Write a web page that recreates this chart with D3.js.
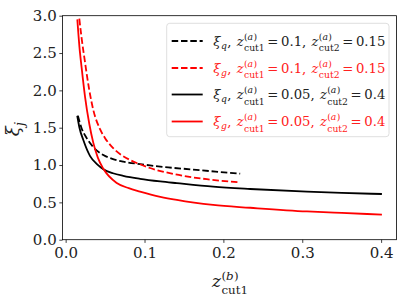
<!DOCTYPE html>
<html>
<head>
<meta charset="utf-8">
<script src="https://cdn.jsdelivr.net/npm/d3@7"></script>
<style>
  body { margin: 0; background: #fff; }
  svg text { font-family: "DejaVu Serif", serif; }
</style>
</head>
<body>
<div class="canvas"></div>
<script>
// values
const xQ1 = [0.0155, 0.0203, 0.0267, 0.035, 0.0478, 0.06, 0.073, 0.0943, 0.107, 0.13, 0.158, 0.19, 0.2213];
const yQ1 = [1.66, 1.49, 1.36, 1.24, 1.134, 1.08, 1.045, 1.012, 0.995, 0.968, 0.943, 0.912, 0.885];

const xG1 = [0.0173, 0.02, 0.0245, 0.03, 0.035, 0.0436, 0.05, 0.06, 0.0817, 0.0943, 0.107, 0.1367, 0.179, 0.2204];
const yG1 = [2.96, 2.72, 2.38, 2.0, 1.74, 1.48, 1.36, 1.23, 1.067, 1.01, 0.96, 0.88, 0.81, 0.77];

const xQ2 = [0.0147, 0.0175, 0.0224, 0.031, 0.04, 0.0478, 0.06, 0.073, 0.0943, 0.12, 0.141, 0.187, 0.234, 0.306, 0.35, 0.401];
const yQ2 = [1.66, 1.50, 1.335, 1.12, 1.01, 0.945, 0.89, 0.855, 0.815, 0.78, 0.757, 0.71, 0.679, 0.643, 0.626, 0.612];

const xG2 = [0.0148, 0.0175, 0.0203, 0.0245, 0.03, 0.035, 0.0408, 0.0478, 0.0648, 0.08, 0.0943, 0.12, 0.141, 0.187, 0.234, 0.306, 0.35, 0.401];
const yG2 = [2.95, 2.58, 2.30, 1.92, 1.55, 1.30, 1.10, 0.95, 0.76, 0.69, 0.645, 0.575, 0.532, 0.465, 0.428, 0.378, 0.358, 0.337];

const seriesX = [xQ1, xG1, xQ2, xG2];
const seriesY = [yQ1, yG1, yQ2, yG2];
const seriesSub = ['q', 'g', 'q', 'g'];
const seriesCut1 = ['0.1', '0.1', '0.05', '0.05'];
const seriesCut2 = ['0.15', '0.15', '0.4', '0.4'];
const seriesColor = ['#000000', '#ff0000', '#000000', '#ff0000'];
const seriesDashed = [true, true, false, false];

const xTicks = [0, 0.1, 0.2, 0.3, 0.4];
const yTicks = [0, 0.5, 1.0, 1.5, 2.0, 2.5, 3.0];

// layout
const W = 406, H = 304;
const box = {left: 62.5, right: 396.5, top: 15.7, bottom: 239.7};

const svg = d3.select('.canvas')
    .append('svg')
    .attr('width', W)
    .attr('height', H);

const x = d3.scaleLinear().domain([-0.004, 0.4195]).range([box.left, box.right]);
const y = d3.scaleLinear().domain([0, 3]).range([box.bottom, box.top]);

// axes
const xAxisGroup = svg.append('g')
    .attr('transform', `translate(0, ${box.bottom})`)
    .call(d3.axisBottom(x).tickValues(xTicks).tickFormat(d3.format('.1f'))
        .tickSize(3.2).tickSizeOuter(0).tickPadding(4.3));
const yAxisGroup = svg.append('g')
    .attr('transform', `translate(${box.left}, 0)`)
    .call(d3.axisLeft(y).tickValues(yTicks).tickFormat(d3.format('.1f'))
        .tickSize(3.2).tickSizeOuter(0).tickPadding(2.6));

[xAxisGroup, yAxisGroup].forEach(g => {
    g.select('.domain').remove();
    g.selectAll('line').attr('stroke', '#000').attr('stroke-width', 0.75);
    g.selectAll('text')
        .attr('font-family', '"DejaVu Serif", serif')
        .attr('font-size', 15)
        .attr('fill', '#222');
});

// curves
const line = d3.line()
    .x(d => x(d[0]))
    .y(d => y(d[1]))
    .curve(d3.curveMonotoneX);

seriesX.forEach((xs, i) => {
    svg.append('path')
        .datum(xs.map((v, j) => [v, seriesY[i][j]]))
        .attr('d', line)
        .attr('fill', 'none')
        .attr('stroke', seriesColor[i])
        .attr('stroke-width', 1.8)
        .attr('stroke-dasharray', seriesDashed[i] ? '6.5,2.8' : null);
});

// frame
svg.append('rect')
    .attr('x', box.left)
    .attr('y', box.top)
    .attr('width', box.right - box.left)
    .attr('height', box.bottom - box.top)
    .attr('fill', 'none')
    .attr('stroke', '#000')
    .attr('stroke-width', 0.8);

// little math typesetter: tokens drawn one after another, width measured
function put(g, toks, x0, y0, fs, fill, k0, dy0) {
    let cx = x0;
    toks.forEach(t => {
        if (t.gap !== undefined) { cx += t.gap * fs; return; }
        if (t.up) {
            const w1 = put(g, t.up, cx, y0, fs, fill, 0.7, -0.44);
            const w2 = put(g, t.dn, cx, y0, fs, fill, 0.7, 0.42);
            cx += Math.max(w1, w2);
            return;
        }
        const k = t.k || k0;
        const dy = t.dy !== undefined ? t.dy : dy0;
        const el = g.append('text')
            .attr('x', cx)
            .attr('y', y0 + dy * fs)
            .attr('font-size', fs * k)
            .attr('font-style', t.it ? 'italic' : 'normal')
            .attr('fill', fill)
            .text(t.s);
        cx += el.node().getComputedTextLength() + (t.it ? 0.03 * fs * k : 0);
    });
    return cx - x0;
}

function mathText(g, x0, y0, fs, fill, toks, anchor) {
    const gg = g.append('g');
    const w = put(gg, toks, 0, 0, fs, fill, 1, 0);
    const shift = anchor === 'middle' ? -w / 2 : 0;
    gg.attr('transform', `translate(${x0 + shift}, ${y0})`);
    return w;
}

const paren = (letter) => [{s: '('}, {s: letter, it: true}, {s: ')'}];

// axis labels
mathText(svg, 230, 287, 17, '#222', [
    {s: 'z', it: true},
    {up: paren('b'), dn: [{s: 'cut1'}]}
], 'middle');

const yLab = svg.append('g').attr('transform', 'translate(19, 129) rotate(-90)');
mathText(yLab, 0, 0, 18, '#222', [
    {s: 'ξ', it: true},
    {s: 'j', it: true, k: 0.7, dy: 0.25}
], 'middle');

// legend
const legend = {x: 166.7, y: 23.3, w: 222.3, h: 113.4, rowY: [41, 68, 94.5, 121.5]};

svg.append('rect')
    .attr('x', legend.x)
    .attr('y', legend.y)
    .attr('width', legend.w)
    .attr('height', legend.h)
    .attr('rx', 3)
    .attr('fill', '#fff')
    .attr('fill-opacity', 0.8)
    .attr('stroke', '#d5d5d5')
    .attr('stroke-width', 0.8);

seriesX.forEach((xs, i) => {
    const ry = legend.rowY[i];
    svg.append('line')
        .attr('x1', 171.7).attr('x2', 202.7)
        .attr('y1', ry).attr('y2', ry)
        .attr('stroke', seriesColor[i])
        .attr('stroke-width', 1.8)
        .attr('stroke-dasharray', seriesDashed[i] ? '6.5,2.8' : null);

    const fill = seriesColor[i] === '#000000' ? '#222' : '#ff2020';
    mathText(svg, 213.3, ry + 4.5, 13.2, fill, [
        {s: 'ξ', it: true},
        {s: seriesSub[i], it: true, k: 0.7, dy: 0.25},
        {s: ','}, {gap: 0.4},
        {s: 'z', it: true},
        {up: paren('a'), dn: [{s: 'cut1'}]},
        {gap: 0.2}, {s: '='}, {gap: 0.2},
        {s: seriesCut1[i]}, {s: ','}, {gap: 0.4},
        {s: 'z', it: true},
        {up: paren('a'), dn: [{s: 'cut2'}]},
        {gap: 0.2}, {s: '='}, {gap: 0.2},
        {s: seriesCut2[i]}
    ]);
});
</script>
</body>
</html>
